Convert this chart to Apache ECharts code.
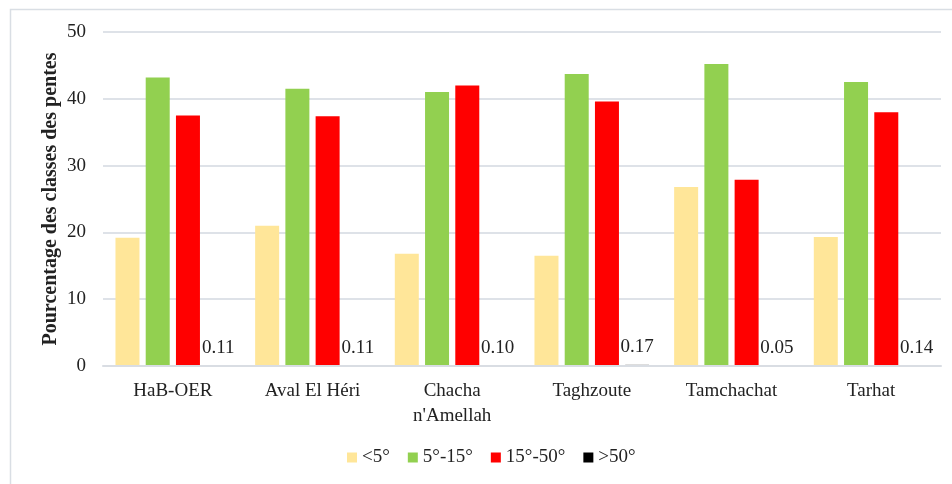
<!DOCTYPE html>
<html><head><meta charset="utf-8">
<script src="https://cdn.jsdelivr.net/npm/echarts@6/dist/echarts.min.js"></script>
<style>html,body{margin:0;padding:0;background:#fff}#c{width:952px;height:484px}</style>
</head><body><div id="c"></div>
<script>
const categories = ['HaB-OER', 'Aval El Héri', "Chacha\nn'Amellah", 'Taghzoute', 'Tamchachat', 'Tarhat'];
const seriesNames = ['<5°', '5°-15°', '15°-50°', '>50°'];
const lt5 = [19.2, 21.0, 16.8, 16.5, 26.8, 19.3];
const s5to15 = [43.2, 41.5, 41.0, 43.7, 45.2, 42.5];
const s15to50 = [37.5, 37.4, 42.0, 39.6, 27.9, 38.0];
const gt50 = [0.11, 0.11, 0.10, 0.17, 0.05, 0.14];
const yTicks = [0, 10, 20, 30, 40, 50];
const yName = 'Pourcentage des classes des pentes';
const colors = ['#FFE699', '#92D050', '#FF0000', '#000000'];
const font = 'Liberation Serif';

const chart = echarts.init(document.getElementById('c'));
const dataSets = [lt5, s5to15, s15to50, gt50];
chart.setOption({
  animation: false,
  graphic: [
    {type: 'rect', left: 8, top: 7, shape: {width: 960, height: 500}, style: {fill: 'none', stroke: '#D9DEE4', lineWidth: 1.5}, silent: true},
    {type: 'text', x: 51, y: 199, rotation: Math.PI / 2, silent: true,
     style: {text: yName, font: 'bold 20px "Liberation Serif"', fill: '#222', align: 'center', verticalAlign: 'middle'}}
  ],
  grid: {left: 103, right: 11, top: 32, bottom: 118},
  legend: {
    bottom: 12, left: 342, itemWidth: 10, itemHeight: 10, itemGap: 18,
    icon: 'rect',
    textStyle: {fontFamily: font, fontSize: 19, color: '#222'},
    data: seriesNames
  },
  xAxis: {
    type: 'category', data: categories, z: 3,
    axisLine: {lineStyle: {color: '#D9DDE3', width: 2}},
    axisTick: {show: false},
    axisLabel: {fontFamily: font, fontSize: 19, color: '#222', margin: 13, lineHeight: 25}
  },
  yAxis: {
    type: 'value', min: 0, max: 50, interval: 10,
    axisLine: {show: false}, axisTick: {show: false},
    axisLabel: {fontFamily: font, fontSize: 19, color: '#222', margin: 17,
      formatter: v => yTicks.includes(v) ? String(v) : ''},
    splitLine: {lineStyle: {color: '#DEE2E8', width: 2}}
  },
  series: seriesNames.map((n, i) => ({
    name: n, type: 'bar', data: dataSets[i],
    barWidth: 24, barGap: '26%',
    itemStyle: {color: colors[i]},
    label: i === 3 ? {show: true, position: 'top', distance: 8, fontFamily: font, fontSize: 19, color: '#222',
      formatter: p => p.value.toFixed(2)} : {show: false}
  }))
});
</script></body></html>
